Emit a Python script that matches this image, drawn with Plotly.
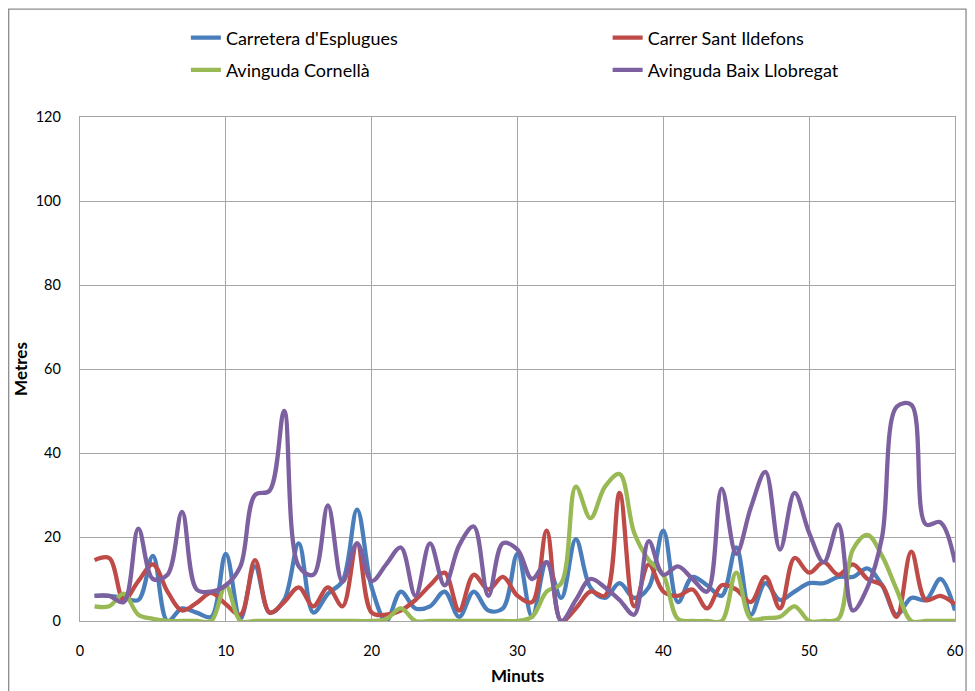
import plotly.graph_objects as go

minutes = list(range(1, 61))

carretera_esplugues = [6, 6, 5.5, 5, 15.5, 0, 3, 2, 1, 16,
                       0.5, 13, 2, 5, 18.5, 2, 6.5, 9.5, 26.5, 8,
                       0, 7, 3, 3.5, 7, 1, 7, 2.5, 3, 16,
                       1, 14, 5.5, 19.5, 8, 5.5, 9, 5.5, 8, 21.5,
                       4.5, 10.5, 8.5, 6, 17.5, 1.5, 9, 5, 7, 9,
                       9, 10.5, 10.5, 12.5, 8.5, 1.5, 5.5, 5, 10, 2.5]

carrer_sant_ildefons = [14.5, 15, 5, 9.5, 13.5, 7, 2.5, 4.3, 6.7, 4,
                        1.5, 14.5, 2, 4.5, 8, 3.5, 8, 3.5, 18.5, 2,
                        1.5, 2.5, 5, 8.5, 11.5, 2.5, 11, 7.5, 10.5, 6,
                        4.5, 21.5, 0, 3, 7, 6, 30.5, 3.5, 13.5, 7,
                        6, 7.5, 3, 8.5, 7.5, 4.5, 10.5, 3, 15, 11.5,
                        14, 11, 13.5, 10, 8.5, 1, 16.5, 5, 6, 4]

avinguda_cornella = [3.5, 3.5, 6.5, 1.5, 0.5, 0, 0, 0, 0, 8.5,
                     0, 0, 0, 0, 0, 0, 0, 0, 0, 0,
                     0.5, 3, 0, 0, 0, 0, 0, 0, 0, 0,
                     1, 7, 9, 32, 24.5, 32, 35, 21, 14.5, 11,
                     0.5, 0, 0, 0, 11.5, 0.5, 0.7, 1, 3.5, 0,
                     0, 0.5, 17, 20.5, 15.5, 7.5, 0, 0, 0, 0]

avinguda_baix_llobregat = [6, 6, 4.5, 22, 10, 11, 26, 7.5, 7, 8.5,
                           13, 30, 31, 50, 13, 11, 27.5, 9.3, 18.5, 9.5,
                           13.5, 17.5, 6, 18.5, 8.5, 18, 22.5, 6, 18.5, 17,
                           10, 14, 0, 5, 10, 8, 5, 1.5, 19, 11,
                           13, 10, 7, 31.5, 16, 27, 35.5, 17, 30.5, 21,
                           14, 23, 2.5, 8, 20, 51, 51.5, 23, 23.5, 14]

series_names = ["Carretera d'Esplugues", "Carrer Sant Ildefons",
                "Avinguda Cornellà", "Avinguda Baix Llobregat"]
series_values = [carretera_esplugues, carrer_sant_ildefons,
                 avinguda_cornella, avinguda_baix_llobregat]
series_colors = ["#4A7EBB", "#BE4B48", "#98B954", "#7D60A0"]

FONT = "Lato, 'Open Sans', sans-serif"

# legend positions (paper coords): two columns, two rows
legend_ids = ["legend", "legend2", "legend3", "legend4"]
legend_pos = [(0.121, 1.157), (0.603, 1.157), (0.121, 1.093), (0.603, 1.093)]

fig = go.Figure()
for name, vals, color, leg in zip(series_names, series_values, series_colors, legend_ids):
    fig.add_trace(go.Scatter(
        x=minutes, y=vals, name=name, mode="lines",
        line=dict(color=color, width=4.3, shape="spline", smoothing=1),
        legend=leg,
    ))

grid_color = "#A6A6A6"
legends = {}
for leg, (lx, ly) in zip(legend_ids, legend_pos):
    legends[leg] = dict(orientation="h", xanchor="left", yanchor="middle",
                        x=lx, y=ly,
                        font=dict(family=FONT, size=18, color="#000000"),
                        bgcolor="rgba(0,0,0,0)", itemwidth=30)

fig.update_layout(
    width=967, height=683,
    margin=dict(l=72, r=20, t=109, b=70, autoexpand=False),
    paper_bgcolor="white", plot_bgcolor="white",
    font=dict(family=FONT, size=14, color="#000000"),
    xaxis=dict(range=[0, 60], dtick=10, tick0=0, showgrid=True,
               gridcolor=grid_color, gridwidth=1.3, automargin=False,
               showline=True, linecolor=grid_color, linewidth=1.3, mirror=True,
               zeroline=False, ticks="", ticklabelstandoff=16,
               tickfont=dict(family=FONT, size=14.5, color="#000000"),
               title=dict(text="<b>Minuts</b>", standoff=12,
                          font=dict(family=FONT, size=17, color="#000000"))),
    yaxis=dict(range=[0, 120], dtick=20, tick0=0, showgrid=True,
               gridcolor=grid_color, gridwidth=1.3, automargin=False,
               showline=True, linecolor=grid_color, linewidth=1.3, mirror=True,
               zeroline=False, ticks="", ticklabelstandoff=15,
               tickfont=dict(family=FONT, size=14.5, color="#000000"),
               title=dict(text="<b>Metres</b>", standoff=3,
                          font=dict(family=FONT, size=17, color="#000000"))),
    shapes=[dict(type="rect", xref="paper", yref="paper",
                 x0=-0.0815, x1=1.0126, y0=-0.16, y1=1.214,
                 line=dict(color="#8C8C8C", width=1.3), fillcolor="rgba(0,0,0,0)",
                 layer="below")],
    showlegend=True,
    **legends,
)

fig.write_html("out.html")
